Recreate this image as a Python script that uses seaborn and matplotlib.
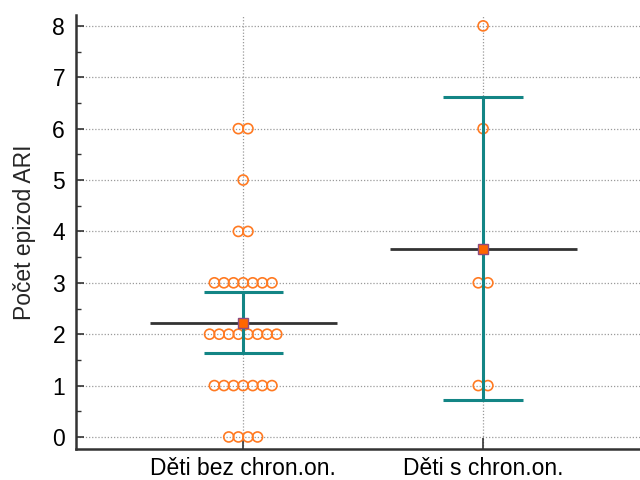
import numpy as np
import pandas as pd
import matplotlib
matplotlib.use("Agg")
import matplotlib.pyplot as plt
import seaborn as sns

# Number of ARI episodes per child, by group
groups = ["Děti bez chron.on.", "Děti s chron.on."]
episodes_without = [0]*4 + [1]*7 + [2]*8 + [3]*7 + [4]*2 + [5]*1 + [6]*2
episodes_with = [1, 1, 3, 3, 6, 8]
t_crit = {30: 2.042, 5: 2.571}  # two-sided 95 % Student t quantiles

sns.set_theme(style="white")
plt.rcParams["font.family"] = ["Liberation Sans", "DejaVu Sans"]

orange = "#FF7A22"
teal = "#138585"
dark = "#333333"

rows = []
for gi, vals in enumerate([episodes_without, episodes_with]):
    vals = np.asarray(vals)
    for v in np.unique(vals):
        n = int((vals == v).sum())
        offs = (np.arange(n) - (n - 1) / 2) * 0.040
        for o in offs:
            rows.append({"group": gi, "x": gi + o, "y": v})
df = pd.DataFrame(rows)

fig = plt.figure(figsize=(6.4, 4.8), dpi=100)
ax = fig.add_axes([0.119, 0.0646, 0.881, 0.9044])

# grid
for yv in range(0, 9):
    ax.axhline(yv, color="#9a9a9a", lw=0.9, ls=(0, (1, 1.5)), zorder=0)
for xv in range(len(groups)):
    ax.axvline(xv, color="#9a9a9a", lw=0.9, ls=(0, (1, 1.5)), zorder=0)

sns.scatterplot(data=df, x="x", y="y", ax=ax, marker="o", s=52,
                facecolors="none", edgecolor=orange, linewidth=1.2,
                zorder=3, legend=False)
for c in ax.collections:
    c.set_facecolor("none")
    c.set_edgecolor(orange)

for gi, vals in enumerate([episodes_without, episodes_with]):
    vals = np.asarray(vals, dtype=float)
    m = vals.mean()
    se = vals.std(ddof=1) / np.sqrt(len(vals))
    half = t_crit[len(vals) - 1] * se
    lo, hi = m - half, m + half
    ax.vlines(gi, lo, hi, color=teal, lw=2.2, zorder=4)
    ax.hlines([lo, hi], gi - 0.165, gi + 0.165, color=teal, lw=2.2, zorder=4)
    ax.hlines(m, gi - 0.39, gi + 0.39, color=dark, lw=2.0, zorder=5)
    ax.plot([gi], [m], marker="s", ms=7.5, mfc="#FF6600", mec="#8E4A7E",
            mew=1.0, zorder=6, ls="none")

ax.set_xlim(-0.696, 1.654)
ax.set_ylim(-0.234, 8.214)
ax.set_xticks(range(len(groups)))
ax.set_xticklabels(groups)
ax.set_yticks(range(0, 9))
ax.set_yticks(np.arange(0.5, 8, 1), minor=True)
ax.set_xlabel("")
ax.set_ylabel("Počet epizod ARI", fontsize=16.5, labelpad=12)

ax.tick_params(axis="both", which="major", direction="in", length=6,
               width=1.2, color=dark, labelsize=16.5, labelcolor="black")
ax.tick_params(axis="y", which="minor", direction="in", length=3.5,
               width=1.0, color=dark, left=True)
ax.tick_params(axis="x", which="major", length=8, bottom=True, pad=6)
ax.tick_params(axis="y", which="major", left=True, pad=8)

for side in ["top", "right"]:
    ax.spines[side].set_visible(False)
for side in ["left", "bottom"]:
    ax.spines[side].set_color(dark)
    ax.spines[side].set_linewidth(1.8)

fig.savefig("out.png", dpi=100)
